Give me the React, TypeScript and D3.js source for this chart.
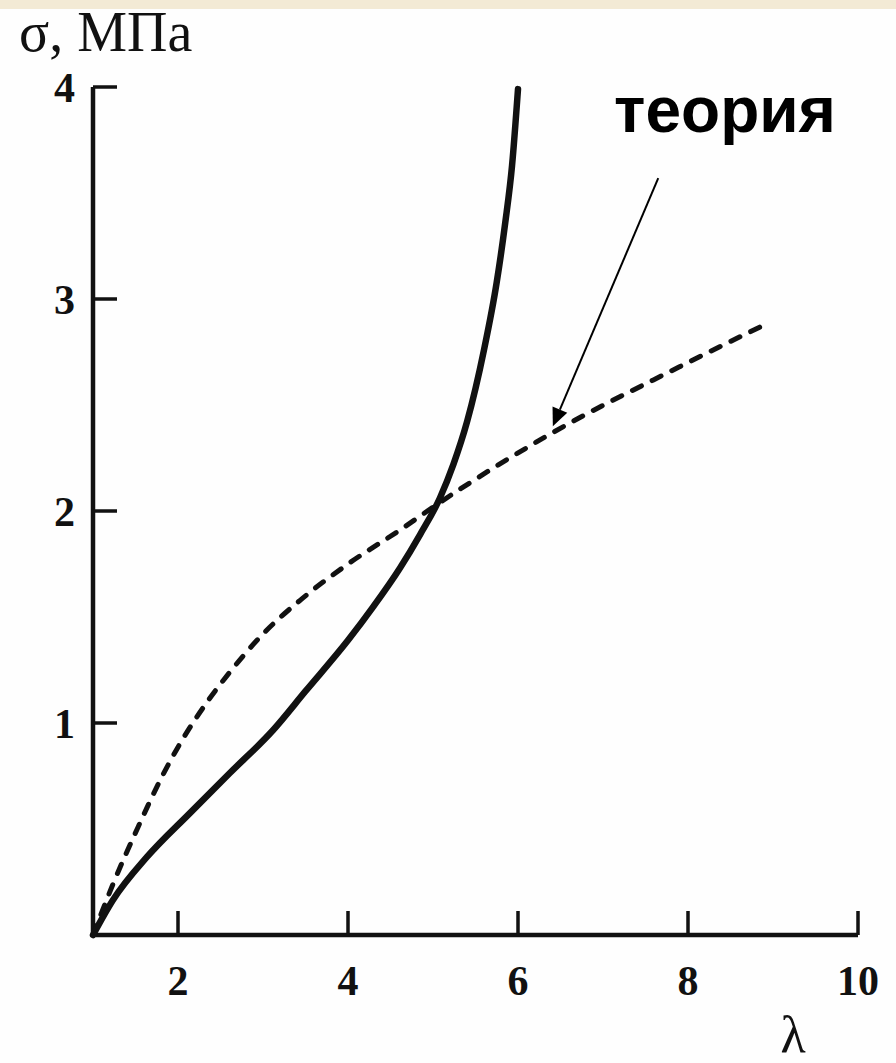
import React from "react";
import * as d3 from "d3";

const lambdaExp = [1, 1.235, 1.635, 2.14, 2.61, 3.12, 3.5, 4.0, 4.3, 4.61, 4.85, 5.08, 5.24, 5.4, 5.6, 5.75, 5.85, 5.93, 6.0];
const sigmaExp = [0, 0.165, 0.368, 0.575, 0.764, 0.967, 1.15, 1.39, 1.55, 1.73, 1.89, 2.06, 2.22, 2.42, 2.76, 3.08, 3.36, 3.63, 3.99];

const lambdaTheory = [1, 1.235, 1.52, 1.79, 2.02, 2.38, 2.61, 3.0, 3.44, 4.0, 4.61, 5.08, 6.41, 7.9, 8.96];
const sigmaTheory = [0, 0.24, 0.5, 0.73, 0.9, 1.12, 1.24, 1.42, 1.58, 1.75, 1.91, 2.04, 2.37, 2.68, 2.89];

const xTicks = [2, 4, 6, 8, 10];
const yTicks = [1, 2, 3, 4];

const yTitle = "σ, МПа";
const xTitle = "λ";
const annotation = "теория";
const arrowFrom = [7.65, 3.57];
const arrowTo = [6.41, 2.4];

export default function App() {
  const x = d3.scaleLinear().domain([1, 10]).range([93, 858]);
  const y = d3.scaleLinear().domain([0, 4]).range([935, 87]);

  const line = d3
    .line<[number, number]>()
    .x((d) => x(d[0]))
    .y((d) => y(d[1]))
    .curve(d3.curveMonotoneX);

  const expPts = lambdaExp.map((l, i) => [l, sigmaExp[i]] as [number, number]);
  const thPts = lambdaTheory.map((l, i) => [l, sigmaTheory[i]] as [number, number]);

  const ax0 = x(arrowFrom[0]);
  const ay0 = y(arrowFrom[1]);
  const ax1 = x(arrowTo[0]);
  const ay1 = y(arrowTo[1]);
  const ang = Math.atan2(ay1 - ay0, ax1 - ax0);
  const headLen = 18;
  const headW = 8;
  const bx = ax1 - headLen * Math.cos(ang);
  const by = ay1 - headLen * Math.sin(ang);
  const px = -Math.sin(ang) * headW;
  const py = Math.cos(ang) * headW;

  const serif = "'Liberation Serif', 'DejaVu Serif', serif";
  const sans = "'Liberation Sans', Arial, sans-serif";

  return (
    <svg
      width={896}
      height={1063}
      style={{ position: "absolute", left: 0, top: 0, background: "#fff" }}
    >
      <rect x={0} y={0} width={896} height={1063} fill="#fefefe" />
      <rect x={0} y={0} width={896} height={9} fill="#f3ead5" />

      {/* axes */}
      <path
        d={`M${x(1)},${y(4)} L${x(1)},${y(0)} L${x(10)},${y(0)}`}
        fill="none"
        stroke="#111"
        strokeWidth={4.5}
        strokeLinejoin="miter"
      />
      {yTicks.map((t) => (
        <line key={"yt" + t} x1={x(1)} x2={x(1) + 24} y1={y(t)} y2={y(t)} stroke="#111" strokeWidth={3.5} />
      ))}
      {xTicks.map((t) => (
        <line key={"xt" + t} x1={x(t)} x2={x(t)} y1={y(0)} y2={y(0) - 24} stroke="#111" strokeWidth={3.5} />
      ))}
      {yTicks.map((t) => (
        <text
          key={"yl" + t}
          x={x(1) - 18}
          y={y(t) + 15}
          textAnchor="end"
          fontFamily={serif}
          fontWeight="bold"
          fontSize={42}
          fill="#111"
        >
          {t}
        </text>
      ))}
      {xTicks.map((t) => (
        <text
          key={"xl" + t}
          x={x(t)}
          y={y(0) + 60}
          textAnchor="middle"
          fontFamily={serif}
          fontWeight="bold"
          fontSize={42}
          fill="#111"
        >
          {t}
        </text>
      ))}

      <text x={19} y={51} fontFamily={serif} fontSize={56} fill="#111">
        {yTitle}
      </text>
      <text x={793} y={1052} textAnchor="middle" fontFamily={serif} fontSize={52} fill="#111">
        {xTitle}
      </text>

      {/* curves */}
      <path
        d={line(thPts) || ""}
        fill="none"
        stroke="#111"
        strokeWidth={5}
        strokeDasharray="10 12"
        strokeLinecap="round"
      />
      <path
        d={line(expPts) || ""}
        fill="none"
        stroke="#111"
        strokeWidth={6.5}
        strokeLinecap="round"
        strokeLinejoin="round"
      />

      {/* annotation */}
      <text x={725} y={132} textAnchor="middle" fontFamily={sans} fontWeight="bold" fontSize={64} fill="#000">
        {annotation}
      </text>
      <line x1={ax0} y1={ay0} x2={bx} y2={by} stroke="#000" strokeWidth={2} />
      <polygon
        points={`${ax1},${ay1} ${bx + px},${by + py} ${bx - px},${by - py}`}
        fill="#000"
      />
    </svg>
  );
}
